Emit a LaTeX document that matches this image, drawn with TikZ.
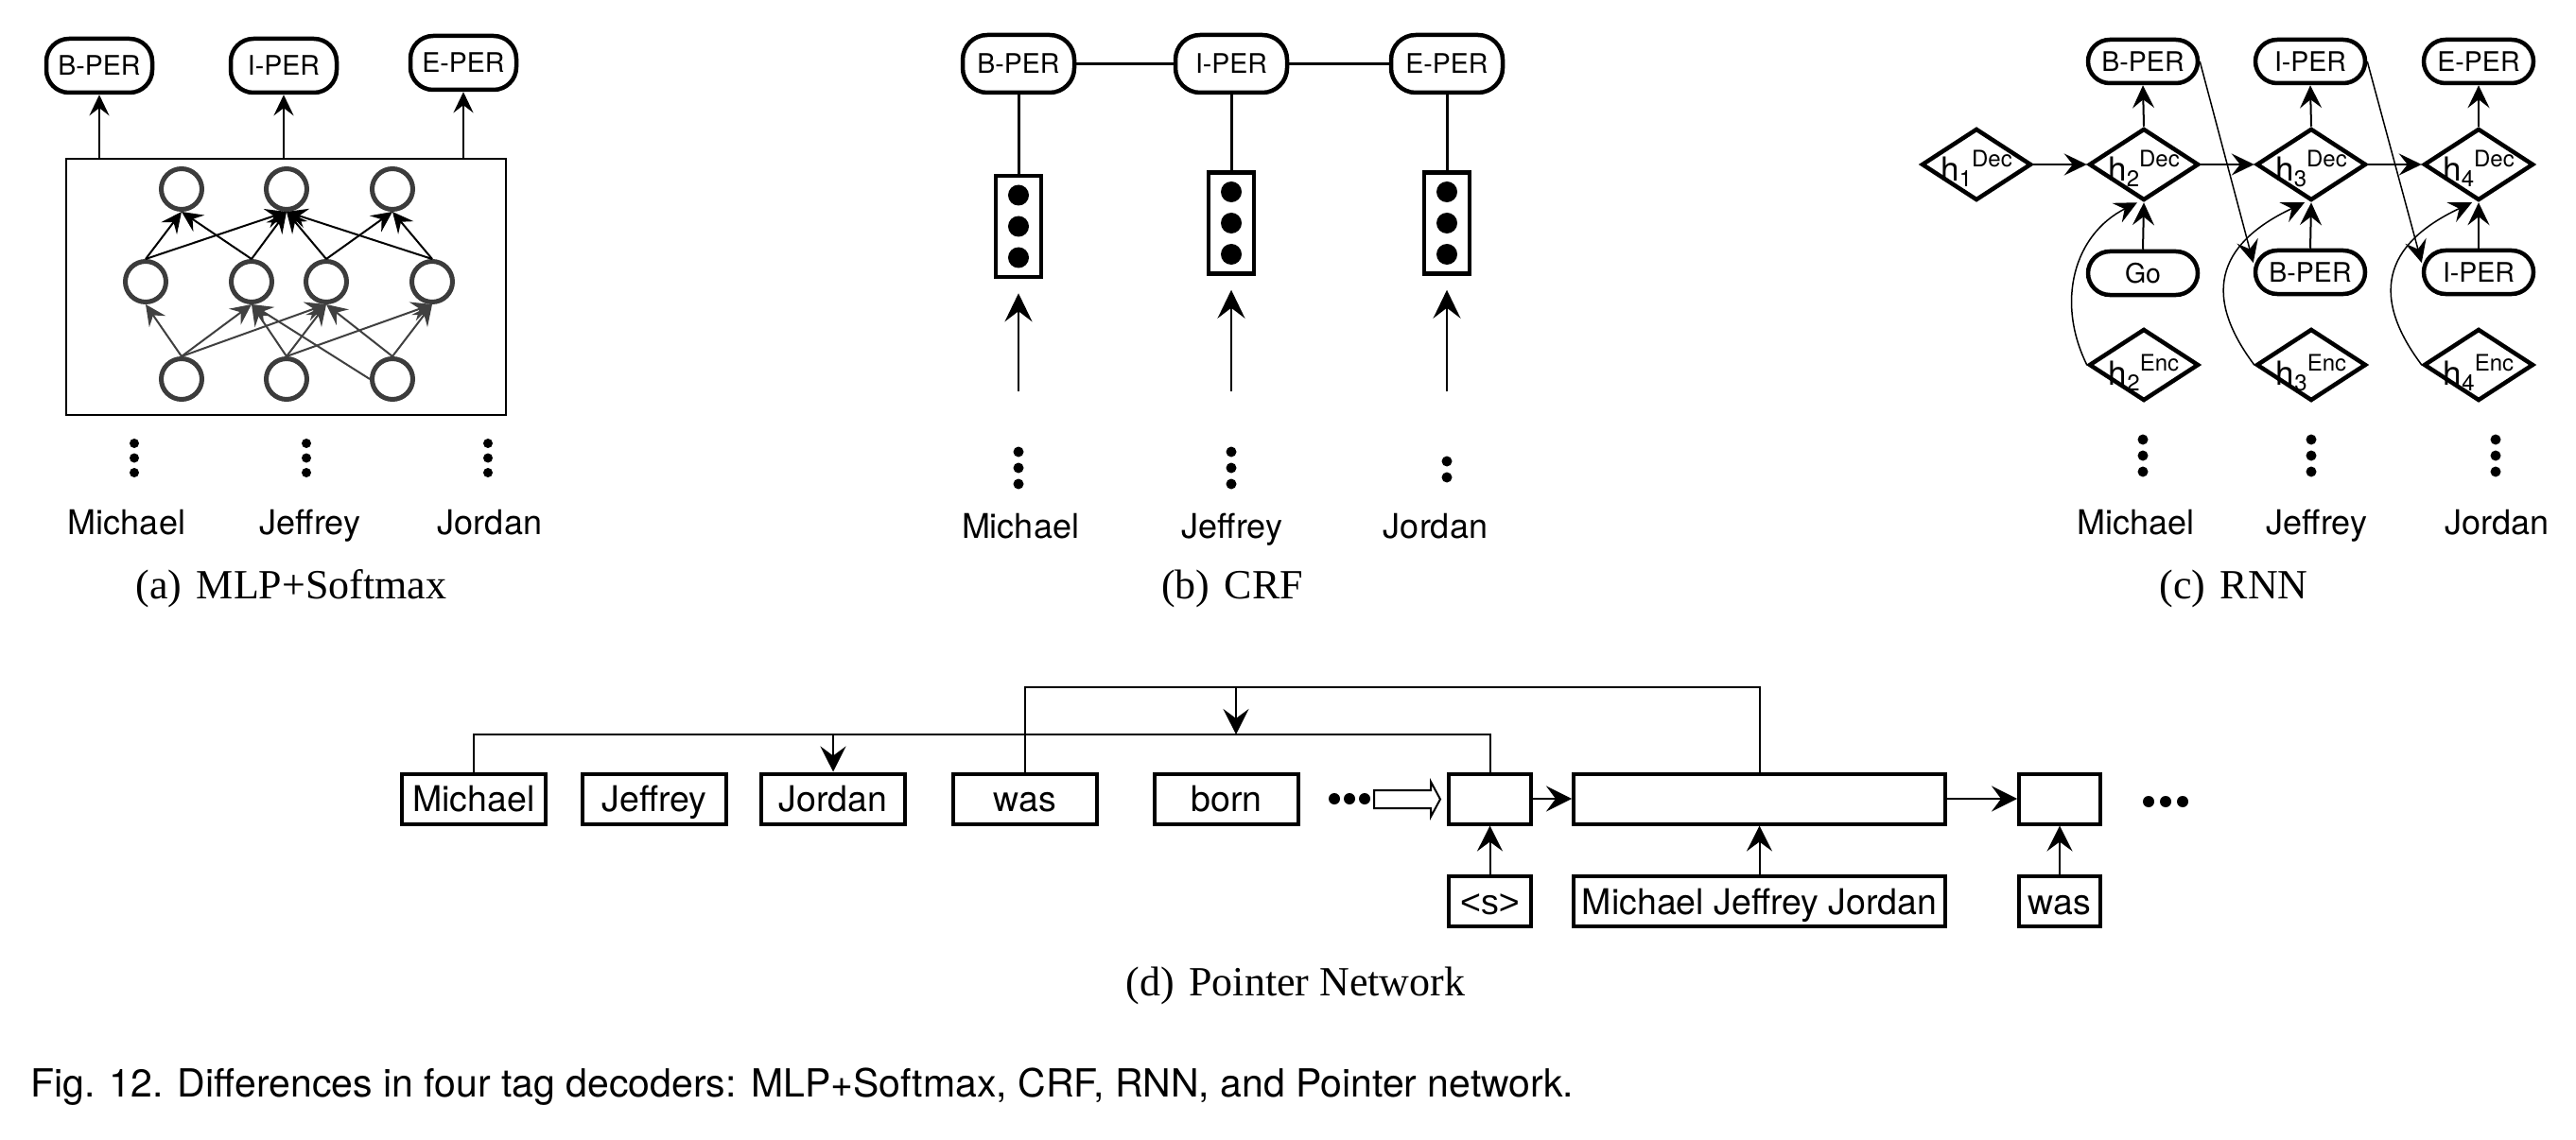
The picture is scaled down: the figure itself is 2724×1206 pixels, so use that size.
\documentclass[tikz,border=0pt]{standalone}
\usepackage{fontspec}
\setmainfont{Liberation Serif}
\newfontfamily\hv{TeX Gyre Heros}
\newfontfamily\ls{Liberation Sans}
\usetikzlibrary{arrows.meta,shapes.geometric,calc}
\definecolor{cg}{HTML}{3C3C3C}
\definecolor{ag}{HTML}{404040}
\newcommand\hlab[2]{\fontsize{35}{36}\selectfont h\raisebox{-6pt}{\fontsize{24}{24}\selectfont #1}\raisebox{15pt}{\fontsize{24}{24}\selectfont #2}}
\begin{document}
\begin{tikzpicture}[x=1pt,y=-1pt,
  lab/.style={draw,line width=4.5pt,rounded corners=24pt,minimum width=112pt,minimum height=57pt,inner sep=0pt,
    font=\hv\fontsize{28.5}{30}\selectfont,text height=20.5pt,text depth=0pt},
  labb/.style={lab,minimum width=118pt,minimum height=61pt,rounded corners=26pt},
  pill/.style={lab,minimum width=116pt,minimum height=46pt,rounded corners=23pt},
  word/.style={anchor=base,font=\hv\fontsize{36}{40}\selectfont},
  circ/.style={circle,draw=cg,line width=5pt,minimum size=43pt,inner sep=0pt},
  arra/.style={-{Stealth[length=22pt,width=21pt,inset=8pt]},line width=2pt},
  arrag/.style={arra,draw=ag,fill=ag},
  arrb/.style={-{Stealth[length=30pt,width=29pt,inset=11pt]},line width=2pt},
  arrc/.style={-{Stealth[length=24pt,width=23pt,inset=9pt]},line width=2pt},
  arrd/.style={-{Stealth[length=27pt,width=27pt,inset=10pt]},line width=2pt},
  dia/.style={diamond,draw,line width=4.5pt,minimum width=116pt,minimum height=76pt,inner sep=0pt},
  hl/.style={anchor=base,font=\hv,inner sep=0pt},
  pbox/.style={draw,line width=4pt,minimum height=53pt,inner sep=0pt,
    font=\hv\fontsize{37.5}{40}\selectfont,text height=27pt,text depth=0pt},
  subcap/.style={anchor=base,font=\fontsize{44}{48}\selectfont,inner sep=0pt}
]
\useasboundingbox (0,0) rectangle (2724,1206);
\fill[white] (0,0) rectangle (2724,1206);

%%%%%%%%%%%%%%%% (a) MLP+Softmax
\node[lab] (a1) at (105,69.5) {B-PER};
\node[lab] (a2) at (300,69.5) {I-PER};
\node[lab] (a3) at (490,66.5) {E-PER};
\node[draw,line width=2pt,minimum width=465pt,minimum height=271pt,inner sep=0pt] (abox) at (302.5,303.5) {};
\foreach \n in {a1,a2,a3} \draw[arra] (\n.south |- abox.north) -- (\n.south);
\node[circ] (t1) at (192,200) {};
\node[circ] (t2) at (303,200) {};
\node[circ] (t3) at (415,200) {};
\node[circ] (m1) at (154,298) {};
\node[circ] (m2) at (266,298) {};
\node[circ] (m3) at (345,298) {};
\node[circ] (m4) at (457,298) {};
\node[circ] (b1) at (192,401) {};
\node[circ] (b2) at (303,401) {};
\node[circ] (b3) at (415,401) {};
\foreach \s/\t in {m1/t1,m1/t2,m2/t1,m2/t2,m3/t2,m3/t3,m4/t2,m4/t3}
  \draw[arra] (\s.north) -- (\t.south);
\foreach \s/\t in {b1/m1,b1/m2,b1/m3,b2/m2,b2/m3,b2/m4,b3/m3,b3/m4}
  \draw[arrag] (\s.north) -- (\t.south);
\draw[arrag] (b3.west) -- (m2.south);
\foreach \x in {142,324,516} \foreach \y in {469,484.5,500} \fill (\x,\y) circle[radius=5pt];
\node[word] (aw1) at (134,565) {Michael};
\node[word] (aw2) at (328,565) {Jeffrey};
\node[word] (aw3) at (518,565) {Jordan};
\node[subcap] (capa) at (308,633) {(a)\hspace{0.35em}MLP+Softmax};

%%%%%%%%%%%%%%%% (b) CRF
\node[labb] (cb1) at (1077,67.5) {B-PER};
\node[labb] (cb2) at (1302,67.5) {I-PER};
\node[labb] (cb3) at (1530,67.5) {E-PER};
\draw[line width=2.5pt] (cb1.east) -- (cb2.west);
\draw[line width=2.5pt] (cb2.east) -- (cb3.west);
\node[draw,line width=4.5pt,minimum width=48pt,minimum height=107pt,inner sep=0pt] (crf1) at (1077,239.5) {};
\node[draw,line width=4.5pt,minimum width=48pt,minimum height=107pt,inner sep=0pt] (crf2) at (1302,236) {};
\node[draw,line width=4.5pt,minimum width=48pt,minimum height=107pt,inner sep=0pt] (crf3) at (1530,236) {};
\foreach \i in {1,2,3} {
  \draw[line width=3pt] (cb\i.south) -- (crf\i.north);
  \foreach \d in {-33,0,33} \fill ($(crf\i.center)+(0,\d)$) circle[radius=11pt];
}
\coordinate (bin1) at (1077,414);
\coordinate (bin2) at (1302,414);
\coordinate (bin3) at (1530,414);
\foreach \i in {1,2,3} \draw[arrb] (bin\i) -- ([yshift=-15pt]crf\i.south);
\foreach \x in {1077,1302} \foreach \y in {478,495,512} \fill (\x,\y) circle[radius=5.5pt];
\foreach \y in {488,505} \fill (1530,\y) circle[radius=5.5pt];
\node[word] (bw1) at (1079,569) {Michael};
\node[word] (bw2) at (1303,569) {Jeffrey};
\node[word] (bw3) at (1518,569) {Jordan};
\node[subcap] (capb) at (1303,633) {(b)\hspace{0.35em}CRF};

%%%%%%%%%%%%%%%% (c) RNN
\node[pill] (ct1) at (2266,65) {B-PER};
\node[pill] (ct2) at (2443,65) {I-PER};
\node[pill] (ct3) at (2621,65) {E-PER};
\node[dia] (d1) at (2090,174) {};
\node[dia] (d2) at (2267,174) {};
\node[dia] (d3) at (2444,174) {};
\node[dia] (d4) at (2621,174) {};
\node[pill] (go) at (2266,289) {Go};
\node[pill] (cbb2) at (2443,288) {B-PER};
\node[pill] (cbb3) at (2621,288) {I-PER};
\node[dia] (e2) at (2267,386) {};
\node[dia] (e3) at (2444,386) {};
\node[dia] (e4) at (2621,386) {};
\node[hl] (hd1) at ([yshift=-18pt]d1.center) {\hlab{1}{Dec}};
\node[hl] (hd2) at ([yshift=-18pt]d2.center) {\hlab{2}{Dec}};
\node[hl] (hd3) at ([yshift=-18pt]d3.center) {\hlab{3}{Dec}};
\node[hl] (hd4) at ([yshift=-18pt]d4.center) {\hlab{4}{Dec}};
\node[hl] (he2) at ([yshift=-21pt]e2.center) {\hlab{2}{Enc}};
\node[hl] (he3) at ([yshift=-21pt]e3.center) {\hlab{3}{Enc}};
\node[hl] (he4) at ([yshift=-21pt]e4.center) {\hlab{4}{Enc}};
\draw[arrc] (d1.east) -- (d2.west);
\draw[arrc] (d2.east) -- (d3.west);
\draw[arrc] (d3.east) -- (d4.west);
\draw[arrc] (d2.north) -- (ct1.south);
\draw[arrc] (d3.north) -- (ct2.south);
\draw[arrc] (d4.north) -- (ct3.south);
\draw[arrc] (go.north) -- (d2.south);
\draw[arrc] (cbb2.north) -- (d3.south);
\draw[arrc] (cbb3.north) -- (d4.south);
\draw[arrc,line width=1.5pt] (ct1.east) -- ([yshift=10pt]cbb2.west);
\draw[arrc,line width=1.5pt] (ct2.east) -- ([yshift=10pt]cbb3.west);
\draw[arrc,line width=1.5pt] (e2.west) .. controls ($(e2.west)+(-33,-67)$) and ($(d2.south)+(-74,34)$) .. ([xshift=-7pt]d2.south);
\draw[arrc,line width=1.5pt] (e3.west) .. controls ($(e3.west)+(-60,-80)$) and ($(d3.south)+(-92,40)$) .. ([xshift=-7pt]d3.south);
\draw[arrc,line width=1.5pt] (e4.west) .. controls ($(e4.west)+(-60,-80)$) and ($(d4.south)+(-92,40)$) .. ([xshift=-7pt]d4.south);
\foreach \x in {2266,2444,2639} \foreach \y in {465,482,499} \fill (\x,\y) circle[radius=5.5pt];
\node[word] (cw1) at (2258,565) {Michael};
\node[word] (cw2) at (2450,565) {Jeffrey};
\node[word] (cw3) at (2640,565) {Jordan};
\node[subcap] (capc) at (2362,633) {(c)\hspace{0.35em}RNN};

%%%%%%%%%%%%%%%% (d) Pointer Network
\node[pbox,minimum width=152pt] (pm) at (501,845) {Michael};
\node[pbox,minimum width=152pt] (pj) at (692,845) {Jeffrey};
\node[pbox,minimum width=152pt] (pjo) at (881,845) {Jordan};
\node[pbox,minimum width=152pt] (pw) at (1084,845) {was};
\node[pbox,minimum width=152pt] (pb) at (1297,845) {born};
\node[pbox,minimum width=87pt] (dec1) at (1575.5,845) {};
\node[pbox,minimum width=393pt] (big) at (1860.5,845) {};
\node[pbox,minimum width=86pt] (last) at (2178,845) {};
\node[pbox,minimum width=87pt] (ps) at (1575.5,953.5) {\ls <s>};
\node[pbox,minimum width=393pt] (mjj) at (1860.5,953.5) {Michael Jeffrey Jordan};
\node[pbox,minimum width=86pt] (pw2) at (2178,953.5) {was};
\coordinate (lineA) at (0,777);
\coordinate (lineB) at (0,727);
\coordinate (dA) at (1307,727);
\coordinate (dB) at (1307,777);
\draw[line width=2pt] (pm.north) -- (pm.north |- lineA) -- (dec1.north |- lineA) -- (dec1.north);
\draw[line width=2pt] (pw.north) -- (pw.north |- lineB) -- (big.north |- lineB) -- (big.north);
\draw[arrd] (dA) -- (dB);
\draw[arrd] (pjo.north |- lineA) -- (pjo.north);
\draw[arrd] (dec1.east) -- (big.west);
\draw[arrd] (big.east) -- (last.west);
\draw[arrd] (ps.north) -- (dec1.south);
\draw[arrd] (mjj.north) -- (big.south);
\draw[arrd] (pw2.north) -- (last.south);
\foreach \x in {1411,1427,1443} \fill (\x,845) circle[radius=6pt];
\foreach \x in {2272,2290,2308} \fill (\x,848) circle[radius=6pt];
\draw[line width=2pt,line join=miter] (1453,836) -- (1513,836) -- (1513,827) -- (1523,845.5) -- (1513,864) -- (1513,855) -- (1453,855) -- cycle;
\node[subcap] (capd) at (1370,1053) {(d)\hspace{0.35em}Pointer Network};

%%%%%%%%%%%%%%%% main caption
\node[anchor=base west,inner sep=0pt,font=\hv\fontsize{41}{44}\selectfont] (fig) at (32,1160)
  {Fig. 12. Differences in four tag decoders: MLP+Softmax, CRF, RNN, and Pointer network.};
\end{tikzpicture}
\end{document}
